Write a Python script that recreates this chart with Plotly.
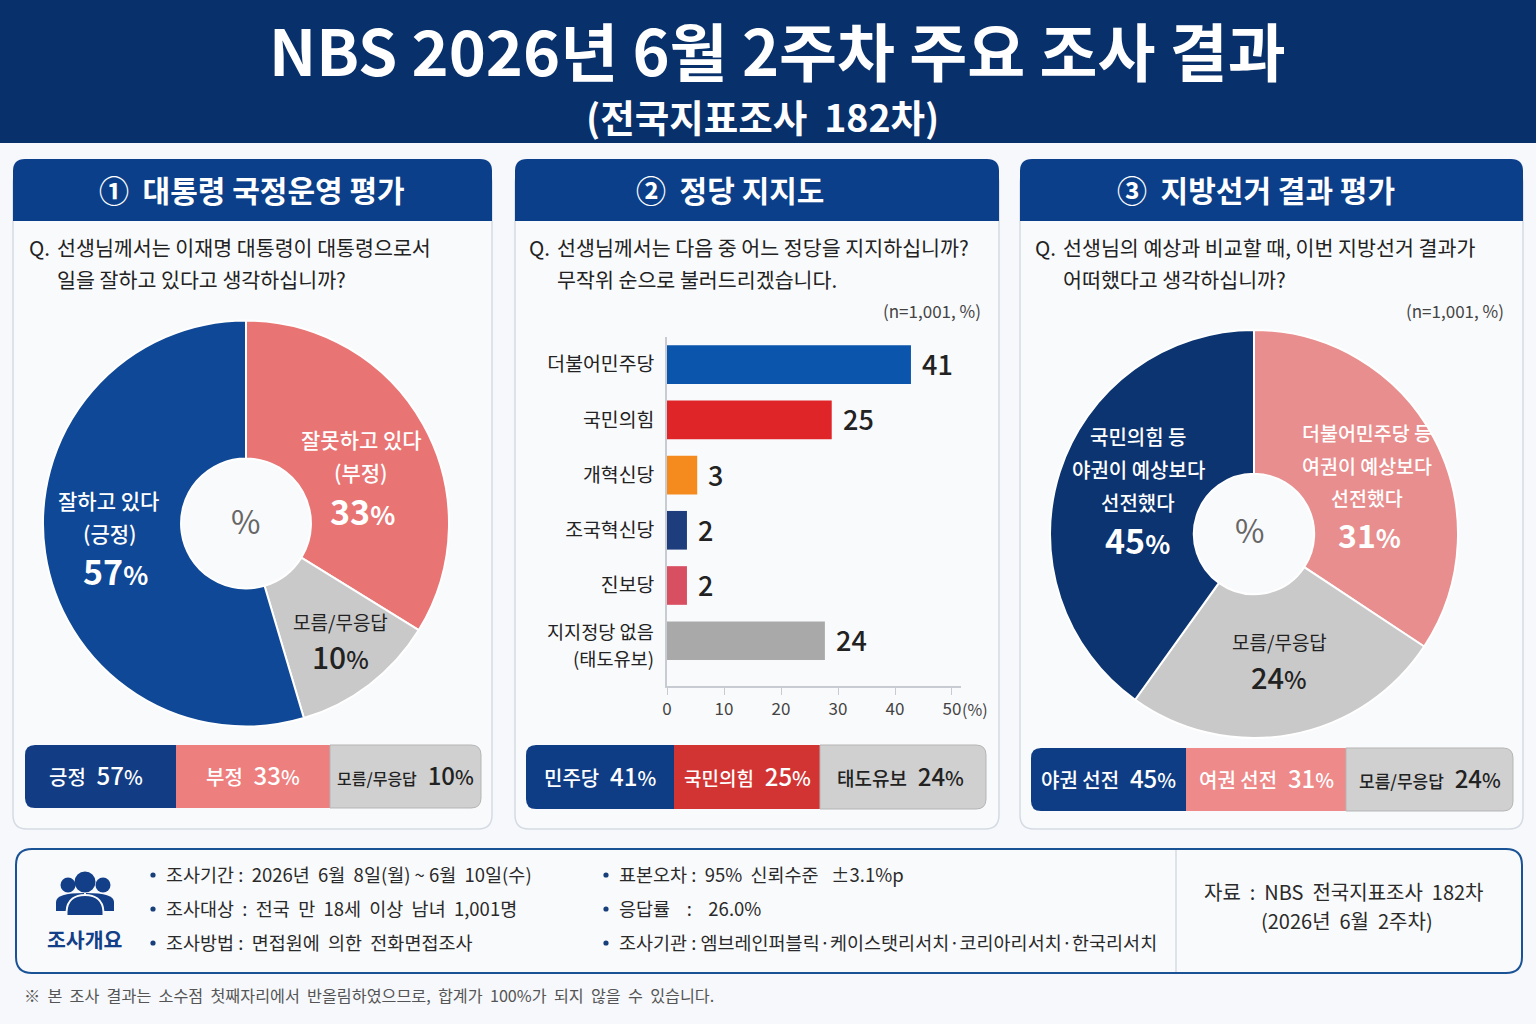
import plotly.graph_objects as go

W = 1536
H = 1024
FONT = "Noto Sans CJK KR"

# --- values ---
# the pies and bars in the picture are not drawn to their printed numbers,
# so the drawn size and the printed label are kept separately
pie1_names = ["잘못하고 있다", "모름/무응답", "잘하고 있다"]
pie1_drawn = [33.8, 11.6, 54.6]
pie1_labels = [33, 10, 57]

pie3_names = ["더불어민주당 등", "모름/무응답", "국민의힘 등"]
pie3_drawn = [34.3, 25.6, 40.1]
pie3_labels = [31, 24, 45]

party_names = ["더불어민주당", "국민의힘", "개혁신당", "조국혁신당", "진보당", "지지정당 없음"]
party_drawn = [42.8, 28.9, 5.3, 3.5, 3.5, 27.7]
party_labels = [41, 25, 3, 2, 2, 24]
party_colors = ["#0b55ad", "#e02528", "#f58a1f", "#1d3d7c", "#d94f62", "#a9a9a9"]
x_ticks = [0, 10, 20, 30, 40, 50]

chip1_names = ["긍정", "부정", "모름/무응답"]
chip1_vals = [57, 33, 10]
chip2_names = ["민주당", "국민의힘", "태도유보"]
chip2_vals = [41, 25, 24]
chip3_names = ["야권 선전", "여권 선전", "모름/무응답"]
chip3_vals = [45, 31, 24]

info_left = ["조사기간 :  2026년  6월  8일(월) ~ 6월  10일(수)",
             "조사대상  :  전국  만  18세  이상  남녀  1,001명",
             "조사방법 :  면접원에  의한  전화면접조사"]
info_right = ["표본오차 :  95%  신뢰수준   ±3.1%p",
              "응답률    :    26.0%",
              "조사기관 : 엠브레인퍼블릭·케이스탯리서치·코리아리서치·한국리서치"]

NAVY = "#08306a"
HEAD = "#0c3f8a"
DARK = "#222222"
EDGE = "#d5dbe3"
CARD = "#f9fafc"


def fx(x):
    return x / W


def fy(y):
    return 1 - y / H


def rpath(x0, y0, x1, y1, r=0, tl=True, tr=True, br=True, bl=True):
    # rounded box in page pixels -> paper path
    rtl, rtr, rbr, rbl = [r if c else 0 for c in (tl, tr, br, bl)]
    p = [f"M {fx(x0 + rtl)} {fy(y0)}", f"L {fx(x1 - rtr)} {fy(y0)}"]
    p.append(f"Q {fx(x1)} {fy(y0)} {fx(x1)} {fy(y0 + rtr)}")
    p.append(f"L {fx(x1)} {fy(y1 - rbr)}")
    p.append(f"Q {fx(x1)} {fy(y1)} {fx(x1 - rbr)} {fy(y1)}")
    p.append(f"L {fx(x0 + rbl)} {fy(y1)}")
    p.append(f"Q {fx(x0)} {fy(y1)} {fx(x0)} {fy(y1 - rbl)}")
    p.append(f"L {fx(x0)} {fy(y0 + rtl)}")
    p.append(f"Q {fx(x0)} {fy(y0)} {fx(x0 + rtl)} {fy(y0)} Z")
    return " ".join(p)


fig = go.Figure()


def box(x0, y0, x1, y1, fill, r=0, line=None, lw=1, **corners):
    fig.add_shape(type="path", path=rpath(x0, y0, x1, y1, r, **corners), xref="paper", yref="paper",
                  fillcolor=fill, line=dict(color=line, width=lw) if line else dict(width=0), layer="below")


def txt(x, y, s, size, color=DARK, anchor="center", weight=400):
    fig.add_annotation(x=fx(x), y=fy(y - 1), xref="paper", yref="paper", text=s, showarrow=False,
                       xanchor=anchor, yanchor="middle", borderpad=0, borderwidth=0,
                       font=dict(family=FONT, size=size, color=color, weight=weight))


def pct(v, small):
    return f"{v}<span style='font-size:{small}px'>%</span>"


def dot(x, y, r, color):
    fig.add_shape(type="circle", xref="paper", yref="paper", x0=fx(x - r), x1=fx(x + r), y0=fy(y + r), y1=fy(y - r),
                  fillcolor=color, line=dict(width=0), layer="below")


# header
box(0, 0, W, 143, NAVY)
txt(777, 49, "NBS 2026년 6월 2주차 주요 조사 결과", 63, "white", weight=700)
txt(762, 116, "(전국지표조사  182차)", 37.5, "white", weight=700)

# panels
panels = [(13, 492), (515, 999), (1020, 1523)]
heads = ["①  대통령 국정운영 평가", "②  정당 지지도", "③  지방선거 결과 평가"]
head_cx = [252, 730, 1256]
for (a, b), t, c in zip(panels, heads, head_cx):
    box(a, 170, b, 829, CARD, 14, EDGE, 1.5)
    box(a, 159, b, 221, HEAD, 12, br=False, bl=False)
    txt(c, 190, t, 30, "white", weight=700)

q_lines = [(29, 57, "선생님께서는 이재명 대통령이 대통령으로서", "일을 잘하고 있다고 생각하십니까?"),
           (529, 557, "선생님께서는 다음 중 어느 정당을 지지하십니까?", "무작위 순으로 불러드리겠습니다."),
           (1035, 1063, "선생님의 예상과 비교할 때, 이번 지방선거 결과가", "어떠했다고 생각하십니까?")]
for qx, lx, l1, l2 in q_lines:
    txt(qx, 248, "Q.", 20.6, anchor="left")
    txt(lx, 248, l1, 20.6, anchor="left")
    txt(lx, 280, l2, 20.6, anchor="left")
txt(981, 311, "(n=1,001, %)", 17, "#444444", anchor="right")
txt(1504, 311, "(n=1,001, %)", 17, "#444444", anchor="right")

# pies
fig.add_trace(go.Pie(labels=pie1_names, values=pie1_drawn, sort=False, direction="clockwise", rotation=0,
                     hole=0.32, textinfo="none", showlegend=False,
                     marker=dict(colors=["#e87474", "#c9c9c9", "#0f4896"], line=dict(color="white", width=2)),
                     domain=dict(x=[fx(43), fx(449)], y=[fy(726.5), fy(320.5)])))
fig.add_trace(go.Pie(labels=pie3_names, values=pie3_drawn, sort=False, direction="clockwise", rotation=0,
                     hole=0.295, textinfo="none", showlegend=False,
                     marker=dict(colors=["#e88e8e", "#c9c9c9", "#0c3470"], line=dict(color="white", width=2)),
                     domain=dict(x=[fx(1050), fx(1458)], y=[fy(738), fy(330)])))

txt(245, 521, "%", 32, "#666666")
txt(108, 501, pie1_names[2], 21, "white", weight=500)
txt(110, 534, "(긍정)", 21, "white", weight=500)
txt(115, 571, "<b>" + pct(pie1_labels[2], 26) + "</b>", 34, "white")
txt(361, 440, pie1_names[0], 21, "white", weight=500)
txt(361, 473, "(부정)", 21, "white", weight=500)
txt(362, 511, "<b>" + pct(pie1_labels[0], 26) + "</b>", 34, "white")
txt(340, 622, pie1_names[1], 19)
txt(340, 657, pct(pie1_labels[1], 24), 30, weight=500)

txt(1249, 530, "%", 32, "#666666")
txt(1138, 437, pie3_names[2], 20, "white", weight=500)
txt(1138, 470, "야권이 예상보다", 20, "white", weight=500)
txt(1138, 503, "선전했다", 20, "white", weight=500)
txt(1137, 540, "<b>" + pct(pie3_labels[2], 26) + "</b>", 34, "white")
txt(1367, 433, pie3_names[0], 19.5, "white", weight=500)
txt(1367, 466, "여권이 예상보다", 19.5, "white", weight=500)
txt(1367, 498, "선전했다", 19.5, "white", weight=500)
txt(1369, 535, "<b>" + pct(pie3_labels[0], 26) + "</b>", 32, "white")
txt(1279, 642, pie3_names[1], 19)
txt(1279, 677, pct(pie3_labels[1], 24), 29, weight=500)

# bars
fig.add_trace(go.Bar(x=party_drawn, y=party_names, orientation="h", marker=dict(color=party_colors, line=dict(width=0)),
                     width=0.7, showlegend=False, xaxis="x", yaxis="y"))
for nm, d, v in zip(party_names, party_drawn, party_labels):
    fig.add_annotation(x=d, y=nm, xref="x", yref="y", text=str(v), showarrow=False, xanchor="left", xshift=9, yshift=1,
                       font=dict(family=FONT, size=27, color=DARK, weight=500))
# last category has two lines with tighter leading than a tick label gives
txt(654, 631, party_names[5], 18.6, anchor="right")
txt(654, 658, "(태도유보)", 18.6, anchor="right")
txt(975, 710, "(%)", 16, "#444444")

# summary strips under each panel
strips = [(25, 481, 745, 808, [176, 330], chip1_names, chip1_vals, ["#123d84", "#ee7f7f", "#d0d0d0"], 16, [-5, 0, 0]),
          (526, 986, 745, 809, [674, 820], chip2_names, chip2_vals, ["#0e3d85", "#d23434", "#d0d0d0"], 17, [0, 0, -3]),
          (1031, 1513, 748, 811, [1186, 1346], chip3_names, chip3_vals, ["#0e3d85", "#ee8a8a", "#d0d0d0"], 17, [0, 0, 0])]
for x0, x1, y0, y1, cuts, names, vals, cols, small, nudge in strips:
    edges = [x0] + cuts + [x1]
    for i in range(3):
        box(edges[i], y0, edges[i + 1], y1, cols[i], 10 if i != 1 else 0, "#b5b5b5" if i == 2 else None,
            tl=i == 0, bl=i == 0, tr=i == 2, br=i == 2)
        c = "white" if i < 2 else DARK
        if len(names[i]) > 5:
            ns = small
        elif len(names[i]) == 4:
            ns = 19
        else:
            ns = 20
        body = f"<span style='font-size:{ns}px'>{names[i]}</span>  {pct(vals[i], 20)}"
        txt((edges[i] + edges[i + 1]) / 2 + nudge[i], (y0 + y1) / 2 - 1, body, 24, c, weight=500)

# survey info box
box(16, 849, 1522, 973, CARD, 16, "#1a5296", 2)
fig.add_shape(type="line", xref="paper", yref="paper", x0=fx(1176), x1=fx(1176), y0=fy(850), y1=fy(972),
              line=dict(color="#cdd3da", width=1.2), layer="below")

ICON = "#123f88"
dot(68, 885, 7.5, ICON)
dot(103, 885, 7.5, ICON)
dot(85, 882, 10.5, ICON)
for x0, x1, y0, y1 in [(56, 84, 893, 911), (86, 114, 893, 911)]:
    side = -1 if x0 < 80 else 1
    outer = x0 if side < 0 else x1
    inner = x1 if side < 0 else x0
    fig.add_shape(type="path", xref="paper", yref="paper", layer="below", fillcolor=ICON, line=dict(width=0),
                  path=f"M {fx(outer)} {fy(y1)} L {fx(outer)} {fy(y0 + 9)} Q {fx(outer)} {fy(y0)} {fx(inner)} {fy(y0)} "
                       f"L {fx(inner)} {fy(y1)} Z")
fig.add_shape(type="path", xref="paper", yref="paper", layer="below", fillcolor=ICON, line=dict(color=CARD, width=2),
              path=f"M {fx(66.5)} {fy(916)} L {fx(66.5)} {fy(912)} C {fx(67)} {fy(899)} {fx(76)} {fy(895)} {fx(85)} {fy(895)} "
                   f"C {fx(94)} {fy(895)} {fx(103)} {fy(899)} {fx(103.5)} {fy(912)} L {fx(103.5)} {fy(916)} Z")
txt(85, 940, "조사개요", 20.5, ICON, weight=700)

for i, y in enumerate([875, 909, 943]):
    dot(153, y, 2.6, "#173f7a")
    txt(166, y, info_left[i], 18.5, "#2a2a2a", anchor="left")
    dot(606, y, 2.6, "#173f7a")
    txt(619, y, info_right[i], 18.5, "#2a2a2a", anchor="left")

txt(1344, 892, "자료  :  NBS  전국지표조사  182차", 20, "#2a2a2a")
txt(1347, 921, "(2026년  6월  2주차)", 20, "#2a2a2a")
txt(24, 996, "※  본  조사  결과는  소수점  첫째자리에서  반올림하였으므로,  합계가  100%가  되지  않을  수  있습니다.", 16.2, "#555555", anchor="left")

fig.update_layout(
    width=W, height=H, margin=dict(l=0, r=0, t=0, b=0, autoexpand=False), paper_bgcolor="#f6f8fb",
    plot_bgcolor="rgba(0,0,0,0)", font=dict(family=FONT),
    xaxis=dict(domain=[fx(667), fx(961)], range=[0, 51.58], tickvals=x_ticks, ticks="outside", ticklen=7,
               tickcolor="#c8ccd2", showgrid=False, zeroline=False, showline=True, linecolor="#c8ccd2", linewidth=1.5,
               tickfont=dict(size=17, color="#444444", family=FONT), anchor="y"),
    yaxis=dict(domain=[fy(686), fy(337)], range=[5.82, -0.5], type="category", showgrid=False, zeroline=False,
               showline=True, linecolor="#c8ccd2", linewidth=1.5, ticks="", ticklabelstandoff=7,
               tickvals=party_names, ticktext=party_names[:5] + [""],
               tickfont=dict(size=19.4, color=DARK, family=FONT), anchor="x", automargin=False),
)
fig.write_html("out.html", config=dict(displayModeBar=False), post_script="document.body.style.margin='0'")
